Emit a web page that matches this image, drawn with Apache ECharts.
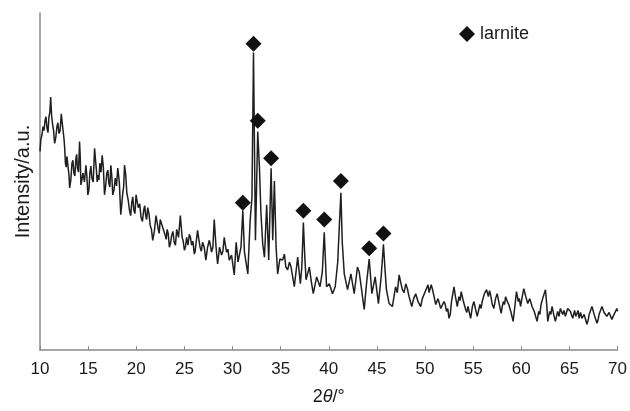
<!DOCTYPE html>
<html>
<head>
<meta charset="utf-8">
<script src="https://cdn.jsdelivr.net/npm/echarts@6/dist/echarts.min.js"></script>
<style>
html,body{margin:0;padding:0;background:#fff;}
#chart{width:630px;height:411px;}
</style>
</head>
<body>
<div id="chart"></div>
<script>
// ---- 2θ 10–30° ----
var thetaA = [
10.00,10.10,10.21,10.31,10.42,10.52,10.62,10.73,10.83,10.93,
11.02,11.11,11.20,11.30,11.41,11.52,11.64,11.76,11.86,11.97,
12.09,12.21,12.35,12.49,12.56,12.64,12.72,12.80,12.88,12.95,
13.02,13.08,13.20,13.32,13.42,13.52,13.62,13.73,13.81,13.89,
14.00,14.11,14.18,14.25,14.35,14.46,14.62,14.77,14.87,14.97,
15.08,15.18,15.29,15.39,15.53,15.67,15.77,15.86,15.94,16.01,
16.12,16.22,16.34,16.46,16.58,16.70,16.82,16.94,17.05,17.15,
17.26,17.36,17.46,17.56,17.69,17.82,17.95,18.08,18.24,18.39,
18.50,18.60,18.69,18.78,18.90,19.02,19.16,19.30,19.42,19.53,
19.64,19.74,19.86,19.98,20.10,20.21,20.36,20.50,20.64,20.78,
20.88,20.98,21.08,21.19,21.32,21.45,21.58,21.71,21.88,22.05,
22.16,22.28,22.38,22.49,22.62,22.75,22.88,23.01,23.11,23.21,
23.32,23.44,23.56,23.68,23.81,23.94,24.07,24.20,24.39,24.58,
24.68,24.77,24.88,25.00,25.11,25.23,25.37,25.51,25.63,25.75,
25.89,26.03,26.12,26.22,26.37,26.50,26.63,26.76,26.89,27.06,
27.23,27.41,27.59,27.70,27.82,27.96,28.10,28.29,28.45,28.65,
28.86,29.00,29.14,29.26,29.38,29.52,29.66,29.90,30.04,30.18
];
var intensityA = [
201,214,218,226,222,232,236,224,220,236,
240,256,238,229,222,209,215,226,230,219,
222,239,226,214,205,189,185,196,198,182,
176,164,172,189,192,179,176,194,198,184,
180,211,195,167,172,179,170,187,176,157,
162,179,186,174,170,204,192,182,170,177,
172,189,180,197,185,157,166,179,182,169,
165,187,176,157,162,174,166,184,170,137,
148,159,165,187,178,159,152,141,136,149,
155,142,138,157,150,144,148,134,130,142,
146,136,132,144,138,126,122,111,120,136,
130,122,118,132,130,124,126,116,112,122,
118,104,108,116,120,109,106,122,114,136,
124,114,110,101,104,114,106,117,114,106,
110,97,100,109,121,112,104,100,109,104,
91,104,111,106,99,104,132,104,87,104,
96,100,114,106,99,102,91,96,98,76
];
// ---- 2θ 30–50° (peak region) ----
var thetaB = [
30.38,30.57,30.73,30.88,31.07,31.24,31.40,31.59,31.83,32.02,
32.18,32.38,32.62,32.80,32.95,33.14,33.32,33.55,33.76,34.01,
34.18,34.35,34.53,34.69,34.92,35.21,35.39,35.54,35.73,35.91,
36.08,36.42,36.77,37.05,37.20,37.36,37.51,37.64,37.98,38.19,
38.39,38.74,39.09,39.33,39.53,39.77,40.05,40.39,40.67,40.93,
41.09,41.26,41.40,41.61,41.95,42.30,42.64,42.98,43.16,43.33,
43.68,43.94,44.20,44.48,44.82,45.16,45.44,45.68,45.86,45.99,
46.27,46.61,46.94,47.12,47.31,47.48,47.65,47.82,48.00,48.17,
48.34,48.62,48.82,49.03,49.27,49.55,49.72,49.90,50.31
];
var intensityB = [
109,89,91,104,141,99,89,77,131,154,
301,111,221,184,139,107,94,147,91,184,
111,171,104,77,92,91,97,84,81,89,
84,64,94,67,84,129,94,71,84,69,
57,74,64,79,119,64,67,57,64,89,
124,159,109,77,61,77,57,84,79,67,
41,69,92,57,74,47,74,107,79,61,
47,44,64,58,76,68,61,58,67,62,
54,44,52,57,49,44,52,51,66
];
// ---- 2θ 50–70° ----
var thetaC = [
50.42,50.52,50.64,50.76,50.94,51.11,51.23,51.35,51.49,51.63,
51.80,51.97,52.10,52.23,52.36,52.49,52.62,52.75,53.01,53.16,
53.35,53.52,53.64,53.76,53.99,54.10,54.22,54.34,54.46,54.60,
54.74,54.92,55.08,55.23,55.42,55.56,55.70,55.82,55.94,56.06,
56.17,56.39,56.58,56.70,56.81,56.99,57.15,57.33,57.49,57.60,
57.72,57.91,58.02,58.14,58.26,58.37,58.55,58.70,58.80,58.91,
59.03,59.15,59.33,59.50,59.69,59.80,59.92,60.10,60.26,60.47,
60.67,60.88,61.00,61.12,61.23,61.35,61.50,61.64,61.81,61.93,
62.05,62.16,62.28,62.40,62.51,62.64,62.75,62.95,63.07,63.19,
63.37,63.54,63.66,63.78,63.92,64.06,64.18,64.30,64.44,64.58,
64.70,64.82,64.96,65.10,65.22,65.34,65.54,65.66,65.78,65.90,
66.01,66.16,66.30,66.42,66.53,66.68,66.82,66.94,67.05,67.20,
67.34,67.46,67.57,67.72,67.86,67.97,68.08,68.23,68.38,68.49,
68.60,68.75,68.89,69.00,69.12,69.27,69.41,69.52,69.64,69.78,
69.93,70.00
];
var intensityC = [
58,60,66,62,54,46,44,52,50,42,
40,49,46,39,42,32,36,49,64,54,
44,54,50,59,49,50,41,38,44,42,
32,44,49,42,34,40,46,42,49,48,
57,61,54,60,56,46,42,52,57,52,
46,37,44,49,46,54,49,46,48,39,
40,29,44,59,49,52,44,54,62,54,
47,52,50,44,46,39,38,29,39,36,
46,48,54,52,61,46,29,39,36,44,
36,29,34,39,34,42,44,36,40,34,
36,42,44,39,40,32,40,34,37,40,
32,38,32,30,36,34,26,30,36,34,
44,40,36,34,27,30,36,34,44,42,
38,40,34,32,38,40,31,30,36,34,
42,39
];
// ---- larnite peak markers ----
var peakTheta  = [31.07, 32.18, 32.62, 34.01, 37.36, 39.53, 41.26, 44.20, 45.68];
var peakMarker = [149, 310, 232, 194, 141, 132, 171, 103, 118];

var twoTheta = thetaA.concat(thetaB, thetaC);
var intensity = intensityA.concat(intensityB, intensityC);
var lineData = [];
for (var i = 0; i < Math.min(twoTheta.length, intensity.length); i++) {
  lineData.push([twoTheta[i], intensity[i]]);
}
var markerData = peakTheta.map(function(x, i){ return [x, peakMarker[i]]; });

var chart = echarts.init(document.getElementById('chart'), null, {renderer:'canvas'});
var FONT = 'Liberation Sans, Arial, Helvetica, sans-serif';
chart.setOption({
  animation: false,
  backgroundColor: '#fff',
  textStyle: {fontFamily: FONT},
  grid: {left: 40, right: 11, top: 13, bottom: 57, containLabel: false},
  legend: {
    data: [{name: 'larnite', icon: 'diamond'}],
    left: 454, top: 20,
    itemWidth: 16, itemHeight: 16,
    textStyle: {fontSize: 18, color: '#1a1a1a', fontFamily: FONT}
  },
  xAxis: {
    type: 'value', min: 10, max: 70, interval: 5,
    name: '2{i|θ}/°',
    nameLocation: 'middle', nameGap: 38,
    nameTextStyle: {fontSize: 18, color: '#1a1a1a', fontFamily: FONT,
      rich: {i: {fontStyle: 'italic', fontSize: 18, color: '#1a1a1a', fontFamily: FONT}}},
    axisLine: {show: true, lineStyle: {color: '#8a8a8a', width: 1.5}},
    axisTick: {show: true, inside: true, length: 4, lineStyle: {color: '#8a8a8a', width: 1}},
    axisLabel: {fontSize: 17, color: '#1a1a1a', margin: 11, fontFamily: FONT},
    splitLine: {show: false}
  },
  yAxis: {
    type: 'value', min: 0, max: 341,
    name: 'Intensity/a.u.',
    nameLocation: 'middle', nameGap: 7, nameRotate: 90,
    nameTextStyle: {fontSize: 20, color: '#1a1a1a', fontFamily: FONT},
    axisLine: {show: true, lineStyle: {color: '#8a8a8a', width: 1.5}},
    axisTick: {show: false},
    axisLabel: {show: false},
    splitLine: {show: false}
  },
  series: [
    {
      type: 'line', name: 'pattern', data: lineData,
      showSymbol: false, symbol: 'none',
      lineStyle: {color: '#1f1f1f', width: 1.5},
      z: 2
    },
    {
      type: 'scatter', name: 'larnite', data: markerData,
      symbol: 'diamond', symbolSize: 16,
      itemStyle: {color: '#111', opacity: 1},
      z: 3
    }
  ]
});
</script>
</body>
</html>
